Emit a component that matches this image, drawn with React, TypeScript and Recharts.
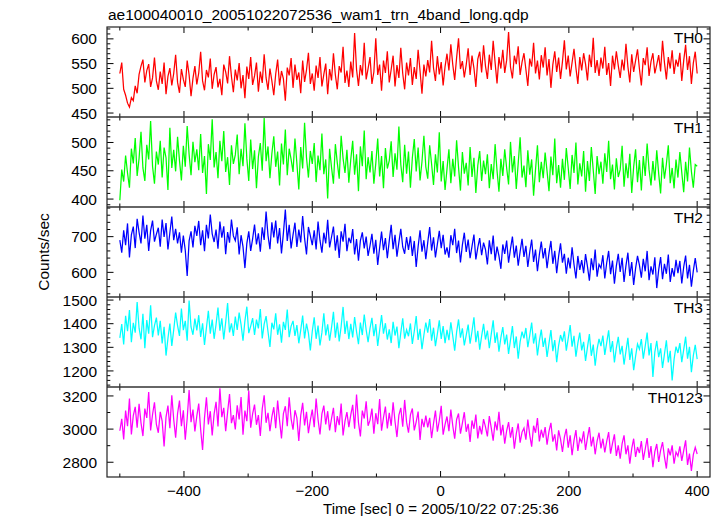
import { LineChart, Line, XAxis, YAxis } from 'recharts'

// time bins: -500 s .. 400 s, one value every 3 s
const T_START = -500
const T_STEP = 3

const TH0 = [
    530, 552, 498, 486, 470, 462, 481, 475, 505, 490,
    528, 545, 558, 512, 536, 549, 503, 521, 562, 515,
    497, 534, 509, 552, 488, 524, 541, 506, 530, 568,
    512, 491, 539, 518, 503, 556, 527, 484, 520, 545,
    508, 531, 574, 515, 496, 537, 522, 560, 499, 528,
    543, 502, 519, 486, 548, 533, 510, 565, 524, 492,
    538, 516, 551, 500, 527, 480, 544, 519, 563, 507,
    525, 552, 493, 534, 511, 569, 521, 497, 540, 515,
    486, 529, 558, 506, 535, 519, 475, 542, 526, 561,
    501, 548, 517, 532, 490, 556, 513, 537, 572, 509,
    530, 495, 546, 521, 563, 504, 528, 550, 488, 539,
    516, 571, 527, 498, 545, 532, 584, 511, 536, 503,
    554, 522, 612, 538, 505, 547, 526, 592, 518, 540,
    563, 509, 533, 601, 527, 548, 495, 556, 531, 575,
    512, 538, 566, 504, 547, 521, 582, 530, 498, 552,
    526, 561, 507, 543, 519, 578, 535, 489, 548, 524,
    557, 532, 596, 541, 515, 565, 528, 553, 506, 544,
    570, 536, 589, 548, 517, 562, 601, 539, 555, 522,
    548, 581, 527, 566, 541, 503, 559, 574, 532, 587,
    545, 519, 568, 537, 596, 552, 510, 563, 540, 578,
    531, 557, 614, 543, 520, 566, 549, 585, 527, 553,
    571, 538, 505, 560, 544, 592, 530, 556, 518, 567,
    542, 583, 526, 559, 501, 548, 575, 533, 562, 519,
    554, 597, 538, 566, 524, 552, 580, 541, 509, 563,
    536, 571, 549, 516, 568, 543, 602, 531, 557, 525,
    562, 540, 584, 527, 551, 505, 566, 538, 575, 546,
    521, 558, 536, 590, 544, 512, 569, 533, 556, 579,
    539, 506, 561, 547, 583, 525, 554, 571, 530, 548,
    567, 534, 596, 552, 518, 563, 540, 577, 529, 558,
    544, 572, 515, 556, 588, 537, 565, 509, 551, 574,
    530,
]

const TH1 = [
    398, 452, 431, 477, 446, 420, 489, 463, 508, 441,
    472, 519, 455, 432, 496, 470, 538, 458, 427, 484,
    461, 503, 438, 491, 473, 416, 526, 455, 487, 449,
    510, 468, 433, 494, 457, 529, 479, 442, 501, 465,
    488, 451, 515, 446, 476, 409, 497, 469, 541, 456,
    483, 437, 503, 467, 520, 448, 474, 425, 495, 462,
    478, 514, 444, 489, 458, 534, 471, 432, 505, 453,
    486, 419, 475, 499, 450, 543, 467, 493, 437, 480,
    511, 457, 484, 424, 498, 461, 523, 442, 489, 470,
    448, 507, 463, 417, 492, 454, 535, 473, 438, 485,
    462, 499, 430, 477, 451, 516, 444, 470, 401, 489,
    456, 427, 497, 464, 436, 512, 472, 446, 487, 429,
    470, 503, 443, 479, 414, 493, 458, 521, 435, 474,
    447, 485, 427, 463, 507, 440, 476, 419, 490, 454,
    468, 502, 439, 481, 452, 528, 461, 430, 496, 445,
    484, 420, 473, 506, 449, 491, 433, 466, 512, 457,
    436, 495, 462, 425, 479, 447, 518, 431, 467, 416,
    453, 488, 428, 471, 440, 504, 456, 415, 483, 445,
    464, 424, 492, 439, 473, 411, 459, 485, 432, 468,
    444, 479, 419, 462, 435, 497, 450, 413, 471, 441,
    488, 455, 426, 501, 447, 476, 418, 463, 509, 438,
    459, 421, 486, 443, 470, 406, 452, 495, 430, 466,
    437, 482, 449, 414, 475, 442, 507, 428, 460, 420,
    471, 434, 490, 455, 418, 478, 446, 500, 426, 463,
    440, 485, 413, 467, 432, 492, 451, 409, 476, 444,
    466, 427, 481, 448, 503, 435, 461, 417, 472, 439,
    452, 494, 422, 463, 437, 480, 411, 457, 488, 430,
    469, 415, 476, 441, 498, 452, 424, 467, 433, 486,
    445, 410, 473, 436, 462, 495, 428, 455, 419, 470,
    438, 483, 447, 412, 466, 431, 491, 449, 420, 461,
    458,
]

const TH2 = [
    690, 655, 718, 676, 737, 642, 705, 728, 668, 750,
    712, 681, 759, 694, 733, 660, 717, 745, 686, 707,
    725, 672, 748, 699, 738, 664, 711, 756, 690, 722,
    681, 712, 655, 703, 662, 590, 688, 715, 670, 730,
    702, 744, 676, 718, 659, 733, 695, 762, 708, 685,
    720, 666, 742, 697, 729, 651, 713, 683, 748, 702,
    689, 726, 650, 704, 672, 612, 681, 715, 660, 694,
    734, 678, 709, 658, 726, 691, 770, 703, 665, 740,
    698, 745, 681, 724, 653, 710, 776, 688, 733, 667,
    705, 739, 671, 720, 684, 758, 695, 650, 727, 702,
    676, 718, 664, 742, 690, 655, 711, 681, 747, 670,
    699, 728, 661, 704, 640, 715, 686, 736, 659, 697,
    682, 721, 650, 693, 633, 689, 712, 667, 700, 646,
    675, 708, 652, 691, 621, 669, 714, 662, 696, 640,
    688, 733, 665, 705, 644, 684, 722, 671, 652, 699,
    663, 701, 646, 688, 615, 672, 718, 658, 690, 637,
    684, 727, 661, 698, 642, 679, 716, 668, 705, 650,
    670, 641, 704, 676, 722, 654, 689, 628, 677, 711,
    657, 692, 640, 673, 706, 636, 669, 696, 648, 683,
    664, 622, 690, 651, 703, 633, 672, 646, 610, 678,
    652, 689, 627, 666, 700, 641, 675, 619, 658, 694,
    643, 674, 615, 657, 692, 629, 664, 603, 650, 686,
    639, 668, 612, 654, 688, 624, 660, 598, 645, 681,
    627, 652, 596, 641, 611, 670, 622, 583, 646, 607,
    634, 598, 651, 616, 577, 639, 606, 664, 588, 622,
    612, 648, 583, 627, 660, 595, 633, 568, 618, 652,
    601, 641, 573, 619, 655, 590, 629, 565, 611, 646,
    620, 585, 638, 603, 660, 578, 617, 594, 642, 556,
    607, 643, 581, 624, 596, 650, 573, 612, 588, 635,
    598, 632, 569, 615, 647, 583, 621, 560, 604, 640,
    600,
]

const TH3 = [
    1340, 1398, 1312, 1433, 1368, 1458, 1322, 1404, 1362, 1492,
    1381, 1334, 1442, 1296, 1415, 1358, 1478, 1343, 1392, 1426,
    1350, 1412, 1316, 1387, 1265, 1338, 1401, 1306, 1374, 1447,
    1392, 1348, 1464, 1373, 1412, 1328, 1498, 1386, 1353, 1422,
    1372, 1436, 1344, 1402, 1310, 1383, 1455, 1358, 1417, 1336,
    1397, 1468, 1370, 1423, 1333, 1406, 1487, 1363, 1401, 1348,
    1430, 1374, 1447, 1396, 1328, 1412, 1472, 1360, 1390, 1424,
    1352, 1417, 1380, 1462, 1338, 1398, 1432, 1366, 1302, 1404,
    1376, 1444, 1353, 1397, 1320, 1408, 1374, 1460, 1343, 1390,
    1412, 1348, 1394, 1317, 1373, 1434, 1338, 1400, 1360, 1287,
    1368, 1427, 1336, 1392, 1308, 1362, 1444, 1350, 1397, 1328,
    1383, 1450, 1341, 1405, 1325, 1388, 1471, 1357, 1412, 1335,
    1399, 1342, 1428, 1366, 1313, 1405, 1352, 1439, 1374, 1322,
    1380, 1425, 1347, 1398, 1306, 1371, 1436, 1358, 1402, 1333,
    1376, 1318, 1408, 1350, 1388, 1296, 1362, 1423, 1337, 1374,
    1347, 1401, 1314, 1368, 1432, 1331, 1378, 1292, 1352, 1405,
    1362, 1420, 1328, 1383, 1305, 1357, 1414, 1336, 1390, 1318,
    1374, 1330, 1406, 1348, 1286, 1364, 1418, 1341, 1380, 1308,
    1352, 1396, 1315, 1368, 1427, 1322, 1370, 1290, 1347, 1399,
    1333, 1371, 1296, 1356, 1414, 1319, 1363, 1282, 1341, 1386,
    1312, 1354, 1272, 1331, 1390, 1297, 1346, 1252, 1323, 1366,
    1338, 1382, 1301, 1350, 1405, 1316, 1359, 1266, 1327, 1375,
    1302, 1340, 1259, 1317, 1373, 1284, 1331, 1237, 1307, 1352,
    1324, 1368, 1286, 1338, 1394, 1303, 1349, 1260, 1318, 1362,
    1287, 1323, 1242, 1301, 1356, 1264, 1312, 1222, 1292, 1336,
    1305, 1350, 1268, 1320, 1372, 1280, 1326, 1236, 1298, 1344,
    1270, 1306, 1227, 1284, 1340, 1247, 1296, 1203, 1262, 1314,
    1292, 1335, 1252, 1305, 1362, 1266, 1318, 1175, 1280, 1327,
    1258, 1296, 1213, 1271, 1330, 1236, 1285, 1160, 1249, 1303,
    1276, 1318, 1237, 1290, 1345, 1252, 1302, 1195, 1265, 1310,
    1250,
]

const TH0123 = [
    2990, 3062, 2938, 3112, 3018, 3184, 2968, 3082, 3134, 3008,
    3152, 3038, 2958, 3124, 3068, 3224, 2992, 3088, 3162, 3028,
    2978, 3104, 3048, 2896, 3072, 3142, 3006, 3204, 3058, 2948,
    3094, 3172, 3018, 3114, 2936, 3064, 3236, 3042, 3118, 2986,
    3078, 3154, 2998, 2874, 3068, 3192, 3028, 3108, 2962, 3092,
    3164, 3016, 3246, 3072, 3128, 2988, 3102, 3212, 3036, 3084,
    2998, 3144, 3058, 3194, 2966, 3112, 3048, 3232, 3008, 3092,
    3148, 3026, 3084, 2958, 3122, 3204, 3038, 3098, 2988, 3074,
    3132, 3006, 3172, 3052, 2944, 3094, 3138, 3018, 3192, 3062,
    2996, 3114, 3068, 2928, 3082, 3158, 3022, 3104, 2976, 3054,
    3118, 3012, 3184, 3058, 2968, 3092, 3142, 3028, 3108, 2992,
    3064, 3128, 2982, 3078, 3024, 3154, 2962, 3048, 3102, 3012,
    3086, 3146, 3002, 3208, 3040, 2956, 3112, 3064, 3168, 3020,
    3054, 3124, 2972, 3096, 3030, 3182, 2990, 3070, 3136, 3004,
    3098, 3020, 3162, 3046, 2952, 3084, 3128, 3014, 3176, 3042,
    2978, 3086, 3124, 2992, 3044, 3106, 2934, 3062, 3012, 3082,
    3010, 3068, 2946, 3034, 3112, 2984, 3052, 3140, 2966, 3028,
    3076, 2988, 3118, 3020, 2942, 3058, 3094, 2972, 3036, 3102,
    2984, 3032, 2922, 3052, 3002, 3088, 2944, 3020, 2968, 3060,
    3014, 2956, 3078, 3008, 2930, 3046, 2992, 3104, 2962, 3026,
    2912, 2990, 3042, 2948, 3012, 2882, 2972, 3034, 2918, 2982,
    3006, 2936, 3058, 2964, 2894, 3020, 2978, 3066, 2926, 2996,
    2948, 3012, 2906, 2986, 3038, 2924, 2968, 2872, 2992, 2940,
    2862, 2952, 3002, 2888, 2962, 2842, 2932, 2994, 2868, 2944,
    2920, 2986, 2874, 2948, 3012, 2896, 2954, 2848, 2928, 2978,
    2884, 2942, 2860, 2926, 2982, 2852, 2914, 2968, 2838, 2902,
    2822, 2912, 2962, 2848, 2902, 2792, 2882, 2942, 2832, 2892,
    2856, 2928, 2814, 2880, 2946, 2826, 2898, 2770, 2864, 2910,
    2802, 2872, 2922, 2832, 2762, 2884, 2842, 2902, 2792, 2862,
    2838, 2896, 2808, 2870, 2932, 2784, 2852, 2748, 2846, 2890,
    2850,
]

// axis ticks
const X_TICKS = [-500, -400, -300, -200, -100, 0, 100, 200, 300, 400]
const X_LABELS = [-400, -200, 0, 200, 400]

const FONT = '"Liberation Sans", Arial, Helvetica, sans-serif'
const PLOT_LEFT = 107
const PLOT_RIGHT = 710
const PLOT_TOP = 27
const PANEL_H = 90
const PAD_TOP = 20
const PLOT_W = PLOT_RIGHT - PLOT_LEFT

const panels = [
    { name: 'TH0', values: TH0, color: '#ff0000', domain: [442, 624], labels: [450, 500, 550, 600], minor: 10 },
    { name: 'TH1', values: TH1, color: '#00ff00', domain: [386, 545], labels: [400, 450, 500], minor: 10 },
    { name: 'TH2', values: TH2, color: '#0000ff', domain: [531, 783], labels: [600, 700], minor: 20 },
    { name: 'TH3', values: TH3, color: '#00ffff', domain: [1132, 1513], labels: [1200, 1300, 1400, 1500], minor: 20 },
    { name: 'TH0123', values: TH0123, color: '#ff00ff', domain: [2711, 3254], labels: [2800, 3000, 3200], minor: 100 },
]

function minorTicks(domain: number[], step: number) {
    const out: number[] = []
    for (let v = Math.ceil(domain[0] / step) * step; v <= domain[1]; v += step) out.push(v)
    return out
}

function YTick(props: any) {
    const { x, y, payload, labels } = props
    const v = payload.value
    const major = labels.includes(v)
    const len = major ? 6.5 : 3.3
    return (
        <g>
            <line x1={x} y1={y} x2={x + len} y2={y} stroke="#000" strokeWidth={1} />
            <line x1={x + PLOT_W} y1={y} x2={x + PLOT_W - len} y2={y} stroke="#000" strokeWidth={1} />
            {major && (
                <text x={x - 10} y={y} dy="0.36em" textAnchor="end" fontSize={15.5} fontFamily={FONT} fill="#000">
                    {v}
                </text>
            )}
        </g>
    )
}

function XTick(props: any) {
    const { x, y, payload, showLabels } = props
    const v = payload.value
    const major = X_LABELS.includes(v)
    const len = major ? 6 : 3.5
    return (
        <g>
            <line x1={x} y1={y} x2={x} y2={y - len} stroke="#000" strokeWidth={1} />
            <line x1={x} y1={y - PANEL_H} x2={x} y2={y - PANEL_H + len} stroke="#000" strokeWidth={1} />
            {showLabels && major && (
                <text x={x} y={y + 19} textAnchor="middle" fontSize={15} fontFamily={FONT} fill="#000">
                    {v < 0 ? '\u2212' + Math.abs(v) : v}
                </text>
            )}
        </g>
    )
}

function Panel({ panel, index }: { panel: typeof panels[number]; index: number }) {
    const data = panel.values.map((v, i) => ({ t: T_START + i * T_STEP, v }))
    const last = index === panels.length - 1
    return (
        <div style={{ position: 'absolute', left: 0, top: PLOT_TOP + index * PANEL_H - PAD_TOP }}>
            <LineChart
                width={722}
                height={PANEL_H + PAD_TOP + 40}
                data={data}
                margin={{ top: PAD_TOP, right: 722 - PLOT_RIGHT, bottom: 0, left: PLOT_LEFT - 60 }}
            >
                <XAxis
                    type="number"
                    dataKey="t"
                    domain={[-520, 420]}
                    ticks={X_TICKS}
                    interval={0}
                    height={40}
                    tickSize={0}
                    tickMargin={0}
                    axisLine={false}
                    tickLine={false}
                    allowDataOverflow
                    tick={(p: any) => <XTick {...p} showLabels={last} />}
                />
                <YAxis
                    type="number"
                    domain={panel.domain}
                    ticks={minorTicks(panel.domain, panel.minor)}
                    interval={0}
                    width={60}
                    tickSize={0}
                    tickMargin={0}
                    axisLine={false}
                    tickLine={false}
                    allowDataOverflow
                    tick={(p: any) => <YTick {...p} labels={panel.labels} />}
                />
                <Line
                    type="linear"
                    dataKey="v"
                    stroke={panel.color}
                    strokeWidth={1.25}
                    dot={false}
                    isAnimationActive={false}
                />
            </LineChart>
        </div>
    )
}

export default function App() {
    const bottom = PLOT_TOP + PANEL_H * panels.length
    return (
        <div style={{ position: 'absolute', left: 0, top: 0, width: 722, height: 516, background: '#fff', overflow: 'hidden' }}>
            {panels.map((p, i) => (
                <Panel key={p.name} panel={p} index={i} />
            ))}

            {/* frame, separators and text */}
            <svg width={722} height={516} style={{ position: 'absolute', left: 0, top: 0, pointerEvents: 'none' }}>
                <text x={PLOT_LEFT + 1} y={20} fontSize={15.5} fontFamily={FONT} fill="#000">
                    ae100040010_20051022072536_wam1_trn_4band_long.qdp
                </text>
                {panels.slice(1).map((p, i) => (
                    <line key={p.name} x1={PLOT_LEFT} x2={PLOT_RIGHT} y1={PLOT_TOP + (i + 1) * PANEL_H} y2={PLOT_TOP + (i + 1) * PANEL_H} stroke="#333" strokeWidth={1.6} />
                ))}
                <rect x={PLOT_LEFT} y={PLOT_TOP} width={PLOT_W} height={bottom - PLOT_TOP} fill="none" stroke="#222" strokeWidth={1.2} />
                {panels.map((p, i) => (
                    <text key={p.name} x={PLOT_RIGHT - 7} y={PLOT_TOP + i * PANEL_H + 16} textAnchor="end" fontSize={15.5} fontFamily={FONT} fill="#000">
                        {p.name}
                    </text>
                ))}
                <text x={49} y={252} textAnchor="middle" fontSize={15.5} fontFamily={FONT} fill="#000" transform="rotate(-90 49 252)">
                    Counts/sec
                </text>
                <text x={441} y={513.5} textAnchor="middle" fontSize={15} fontFamily={FONT} fill="#000">
                    Time [sec] 0 = 2005/10/22 07:25:36
                </text>
            </svg>
        </div>
    )
}
